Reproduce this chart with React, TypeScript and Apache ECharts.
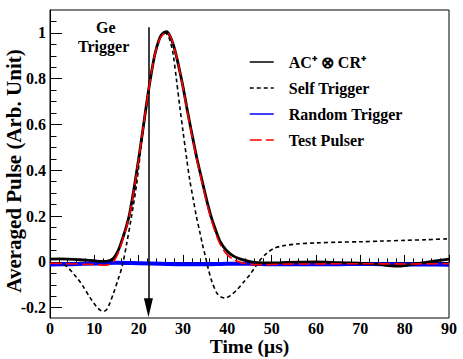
import React, { useEffect, useRef } from "react";
import * as echarts from "echarts";

const FONT = "'Liberation Serif', 'Times New Roman', serif";

const xTicks = [0, 10, 20, 30, 40, 50, 60, 70, 80, 90];
const yMajorTicks = [-0.2, 0, 0.2, 0.4, 0.6, 0.8, 1];
const yMinorTicks = [-0.15, -0.1, -0.05, 0.05, 0.1, 0.15, 0.25, 0.3, 0.35, 0.45, 0.5, 0.55, 0.65, 0.7, 0.75, 0.85, 0.9, 0.95, 1.05];

const seriesNames = ["AC\u207A \u2297 CR\u207A", "Self Trigger", "Random Trigger", "Test Pulser"];

const acCr: [number, number][] = [
  [0, 0.012], [2, 0.013], [4, 0.012], [6, 0.01], [8, 0.008], [10, 0.005], [11.5, 0.002], [12.5, 0.002],
  [13.5, 0.006], [14.5, 0.02], [15.5, 0.055], [16.5, 0.11], [17.3, 0.16], [18, 0.215], [19.2, 0.35],
  [20.3, 0.49], [21.3, 0.625], [22.2, 0.745], [23, 0.84], [23.7, 0.91], [24.5, 0.965], [25.2, 0.993],
  [26.3, 1.005], [27.1, 0.985], [27.8, 0.95], [28.5, 0.9], [29.3, 0.83], [30.1, 0.755], [30.8, 0.68],
  [32, 0.56], [33.1, 0.455], [34.3, 0.355], [35.4, 0.265], [36.3, 0.2], [37.2, 0.148], [38.3, 0.092],
  [39.8, 0.05], [41.4, 0.025], [43, 0.012], [44.5, 0.004], [46, -0.002], [48, -0.004], [52, -0.003],
  [56, -0.001], [60, 0], [65, -0.003], [70, -0.006], [74, -0.01], [77, -0.017], [79, -0.018],
  [81, -0.013], [84, -0.004], [87, 0.004], [90, 0.012],
];

const selfTrigger: [number, number][] = [
  [0, -0.004], [2, -0.006], [3, -0.012], [3.8, -0.02], [5, -0.045], [6.3, -0.075], [7.5, -0.108],
  [9, -0.155], [10.5, -0.196], [11.4, -0.212], [12, -0.216], [12.7, -0.21], [13.5, -0.18], [14.3, -0.138],
  [15.3, -0.08], [16.3, -0.018], [17.3, 0.08], [18.4, 0.2], [19.5, 0.335], [20.4, 0.48], [21.3, 0.62],
  [22.2, 0.745], [23, 0.84], [23.7, 0.91], [24.5, 0.962], [25.3, 0.993], [26, 1.0], [26.8, 0.98],
  [27.3, 0.95], [27.8, 0.905], [28.5, 0.8], [29.3, 0.674], [30, 0.57], [30.8, 0.455], [31.5, 0.36],
  [32.3, 0.275], [33, 0.2], [33.8, 0.13], [34.4, 0.075], [35, 0.028], [35.7, -0.03], [36.5, -0.085],
  [37.6, -0.135], [38.5, -0.153], [39.5, -0.158], [40.6, -0.148], [42.1, -0.123], [43.6, -0.09],
  [45.1, -0.055], [46.3, -0.022], [47.4, 0.008], [48.8, 0.036], [50.4, 0.058], [52.5, 0.07],
  [55.6, 0.078], [60, 0.083], [65, 0.086], [70, 0.088], [75, 0.091], [80, 0.094], [85, 0.097], [90, 0.101],
];

const randomTrigger: [number, number][] = [
  [0, -0.011], [5, -0.01], [10, -0.007], [15, -0.004], [20, -0.006], [25, -0.008], [30, -0.01],
  [35, -0.01], [40, -0.008], [45, -0.008], [50, -0.01], [55, -0.01], [60, -0.01], [65, -0.01],
  [70, -0.009], [75, -0.01], [80, -0.011], [85, -0.011], [90, -0.012],
];

const testPulser: [number, number][] = [
  [0, -0.006], [3, -0.007], [6, -0.009], [9, -0.011], [11, -0.013], [12.5, -0.014], [13.5, -0.01],
  [14.3, 0.0], [15, 0.023], [15.8, 0.06], [16.5, 0.105], [17.3, 0.155], [18, 0.21], [19.2, 0.345],
  [20.3, 0.49], [21.3, 0.625], [22.2, 0.745], [23, 0.84], [23.7, 0.91], [24.5, 0.962], [25.3, 0.99],
  [26.4, 1.0], [27.2, 0.983], [27.8, 0.95], [28.5, 0.9], [29.3, 0.83], [30.1, 0.75], [30.8, 0.675],
  [32, 0.553], [33.1, 0.448], [34.3, 0.345], [35.4, 0.255], [36.3, 0.19], [37.2, 0.135], [38.3, 0.08],
  [39.8, 0.035], [41.4, 0.01], [43, -0.003], [44.5, -0.009], [46, -0.012], [48, -0.012], [52, -0.01],
  [60, -0.009], [70, -0.008], [80, -0.009], [90, -0.008],
];

const triggerTime = 22.2;
const arrowTop = 1.025;
const arrowBottom = -0.2;

export default function App() {
  const ref = useRef<HTMLDivElement>(null);
  useEffect(() => {
    if (!ref.current) return;
    const chart = echarts.init(ref.current, undefined, { renderer: "svg" });
    const labelStyle = { fontFamily: FONT, fontWeight: "bold" as const, fontSize: 16, color: "#000" };
    chart.setOption({
      animation: false,
      backgroundColor: "#fff",
      grid: {
        left: 50, right: 14, top: 10, bottom: 41, show: true, borderColor: "#000", borderWidth: 1,
        containLabel: false, outerBoundsMode: "none",
      },
      legend: {
        orient: "vertical",
        left: 249,
        top: 54,
        padding: 0,
        itemWidth: 24,
        itemHeight: 14,
        itemGap: 10,
        data: seriesNames,
        itemStyle: { color: "rgba(0,0,0,0)", borderWidth: 0, opacity: 0 },
        lineStyle: { width: 1.5 },
        textStyle: { ...labelStyle, lineHeight: 16, padding: [0, 0, 0, 10] },
      },
      xAxis: {
        type: "value",
        min: 0,
        max: 90,
        interval: 10,
        name: "Time (\u03BCs)",
        nameLocation: "middle",
        nameGap: 20,
        nameMoveOverlap: false,
        nameTextStyle: { fontFamily: FONT, fontWeight: "bold", fontSize: 19.5, lineHeight: 17, color: "#000" },
        axisLine: { show: true, lineStyle: { color: "#000", width: 1 } },
        axisTick: { show: true, inside: true, length: 7, lineStyle: { color: "#000" } },
        minorTick: { show: true, splitNumber: 5, length: 3.5, lineStyle: { color: "#000" } },
        axisLabel: { ...labelStyle, margin: 3, lineHeight: 14, customValues: xTicks },
        splitLine: { show: false },
      },
      yAxis: [
        {
          type: "value",
          min: -0.245,
          max: 1.1,
          name: "Averaged Pulse (Arb. Unit)",
          nameLocation: "middle",
          nameGap: 26,
          nameRotate: 90,
          nameMoveOverlap: false,
          nameTextStyle: { fontFamily: FONT, fontWeight: "bold", fontSize: 21, color: "#000", padding: [0, 14, 0, 0] },
          axisLine: { show: true, lineStyle: { color: "#000", width: 1 } },
          axisTick: { show: true, inside: true, length: 12, customValues: yMajorTicks, lineStyle: { color: "#000" } },
          axisLabel: { ...labelStyle, margin: 4, customValues: yMajorTicks, formatter: (v: number) => String(Math.round(v * 10) / 10) },
          splitLine: { show: false },
        },
        {
          type: "value",
          min: -0.245,
          max: 1.1,
          position: "left",
          axisLine: { show: false },
          axisTick: { show: true, inside: true, length: 6.5, customValues: yMinorTicks, lineStyle: { color: "#000" } },
          axisLabel: { show: false },
          splitLine: { show: false },
        },
      ],
      graphic: [
        { type: "text", left: 96, top: 19, style: { text: "Ge", font: `bold 16px ${FONT}`, fill: "#000" } },
        { type: "text", left: 78, top: 38, style: { text: "Trigger", font: `bold 16px ${FONT}`, fill: "#000" } },
      ],
      series: [
        {
          name: seriesNames[2],
          type: "line",
          data: randomTrigger,
          symbol: "none",
          smooth: 0.3,
          lineStyle: { color: "#0000ff", width: 4 },
          itemStyle: { color: "#0000ff" },
          z: 2,
        },
        {
          name: seriesNames[0],
          type: "line",
          data: acCr,
          symbol: "none",
          smooth: 0.3,
          lineStyle: { color: "#000", width: 2.8 },
          itemStyle: { color: "#000" },
          z: 3,
          markLine: {
            silent: true,
            symbol: ["none", "triangle"],
            symbolSize: [9, 19],
            label: { show: false },
            lineStyle: { color: "#000", width: 1.5, type: "solid" },
            emphasis: { disabled: true },
            data: [[{ coord: [triggerTime, arrowTop] }, { coord: [triggerTime, arrowBottom] }]],
          },
        },
        {
          name: seriesNames[1],
          type: "line",
          data: selfTrigger,
          symbol: "none",
          smooth: 0.3,
          lineStyle: { color: "#000", width: 1.6, type: [4, 3] },
          itemStyle: { color: "#000" },
          z: 4,
        },
        {
          name: seriesNames[3],
          type: "line",
          data: testPulser,
          symbol: "none",
          smooth: 0.3,
          lineStyle: { color: "#ff0000", width: 1.6, type: [12, 4] },
          itemStyle: { color: "#ff0000" },
          z: 5,
        },
      ],
    });
    return () => chart.dispose();
  }, []);
  return <div ref={ref} style={{ position: "fixed", left: 0, top: 0, width: 463, height: 359 }} />;
}
